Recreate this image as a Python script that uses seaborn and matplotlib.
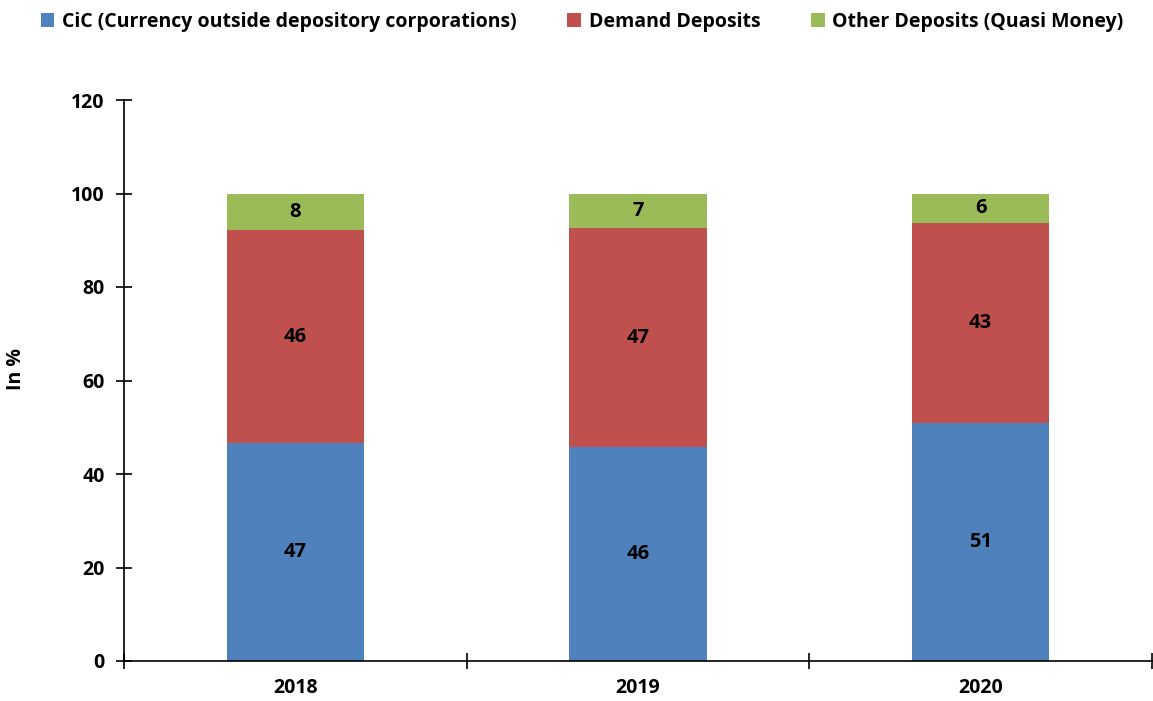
import matplotlib
matplotlib.use("Agg")
import matplotlib.pyplot as plt
import seaborn as sns
import pandas as pd
import numpy as np
from matplotlib.patches import Patch

years = ["2018", "2019", "2020"]
cic = [46.6, 45.7, 51.0]
demand = [45.5, 46.9, 42.6]
other = [7.9, 7.4, 6.4]
cic_labels = ["47", "46", "51"]
demand_labels = ["46", "47", "43"]
other_labels = ["8", "7", "6"]
series_names = ["CiC (Currency outside depository corporations)", "Demand Deposits",
                "Other Deposits (Quasi Money)"]
colors = ["#4F81BD", "#C0504D", "#9BBB59"]

sns.set_style("white")
plt.rcParams['font.family'] = ['Open Sans', 'DejaVu Sans']
plt.rcParams['font.weight'] = 'bold'
plt.rcParams['text.color'] = 'black'
plt.rcParams['axes.labelcolor'] = 'black'
plt.rcParams['xtick.color'] = 'black'
plt.rcParams['ytick.color'] = 'black'
FS = 14

df = pd.DataFrame({"year": years, "cic": cic, "demand": demand, "other": other})
df["lvl2"] = df["cic"] + df["demand"]
df["lvl3"] = df["lvl2"] + df["other"]

fig = plt.figure(figsize=(11.53, 7.01), dpi=100)
ax = fig.add_axes([124/1153, 40/701, 1028/1153, 561/701])

for col, c in [("lvl3", colors[2]), ("lvl2", colors[1]), ("cic", colors[0])]:
    sns.barplot(data=df, x="year", y=col, color=c, width=0.4, ax=ax,
                saturation=1, edgecolor="none", linewidth=0)

for i in range(len(years)):
    ax.text(i, cic[i] / 2, cic_labels[i], ha="center", va="center", fontsize=FS + 0.5, fontweight="bold", color="black")
    ax.text(i, cic[i] + demand[i] / 2, demand_labels[i], ha="center", va="center", fontsize=FS + 0.5, fontweight="bold", color="black")
    ax.text(i, cic[i] + demand[i] + other[i] / 2, other_labels[i], ha="center", va="center", fontsize=FS + 0.5, fontweight="bold", color="black")

ax.set_xlim(-0.5, 2.5)
ax.set_ylim(0, 120)
ax.set_yticks(np.arange(0, 121, 20))
ax.set_xticks(np.arange(-0.5, 2.6, 1.0), minor=False)
ax.set_xticklabels([])
ax.set_xticks(range(len(years)), minor=True)
ax.set_xticklabels(years, minor=True)
ax.tick_params(axis="x", which="minor", bottom=True, length=0, labelsize=FS, pad=12, labelcolor="black")
ax.tick_params(axis="x", which="major", bottom=True, direction="inout", length=12, width=1.2, color="black")
ax.tick_params(axis="y", left=True, direction="inout", length=12, width=1.2, color="black", labelsize=FS, pad=8, labelcolor="black")
for lab in ax.get_xticklabels(minor=True) + ax.get_yticklabels():
    lab.set_fontweight("bold")
ax.set_xlabel("")
ax.set_ylabel("In %", fontsize=FS, fontweight="bold", color="black")
ax.yaxis.set_label_coords(-98/1028, 0.52)

for s in ["top", "right"]:
    ax.spines[s].set_visible(False)
for s in ["left", "bottom"]:
    ax.spines[s].set_color("black")
    ax.spines[s].set_linewidth(1.2)

handles = [Patch(facecolor=c, edgecolor="none") for c in colors]
leg = fig.legend(handles, series_names, loc="center", bbox_to_anchor=(0.505, 1 - 22/701), ncol=3,
                 frameon=False, prop={"weight": "bold", "size": FS}, handlelength=0.7, handleheight=0.7,
                 handletextpad=0.4, columnspacing=2.6)
for t in leg.get_texts():
    t.set_color("black")

fig.savefig("out.png", dpi=100)
